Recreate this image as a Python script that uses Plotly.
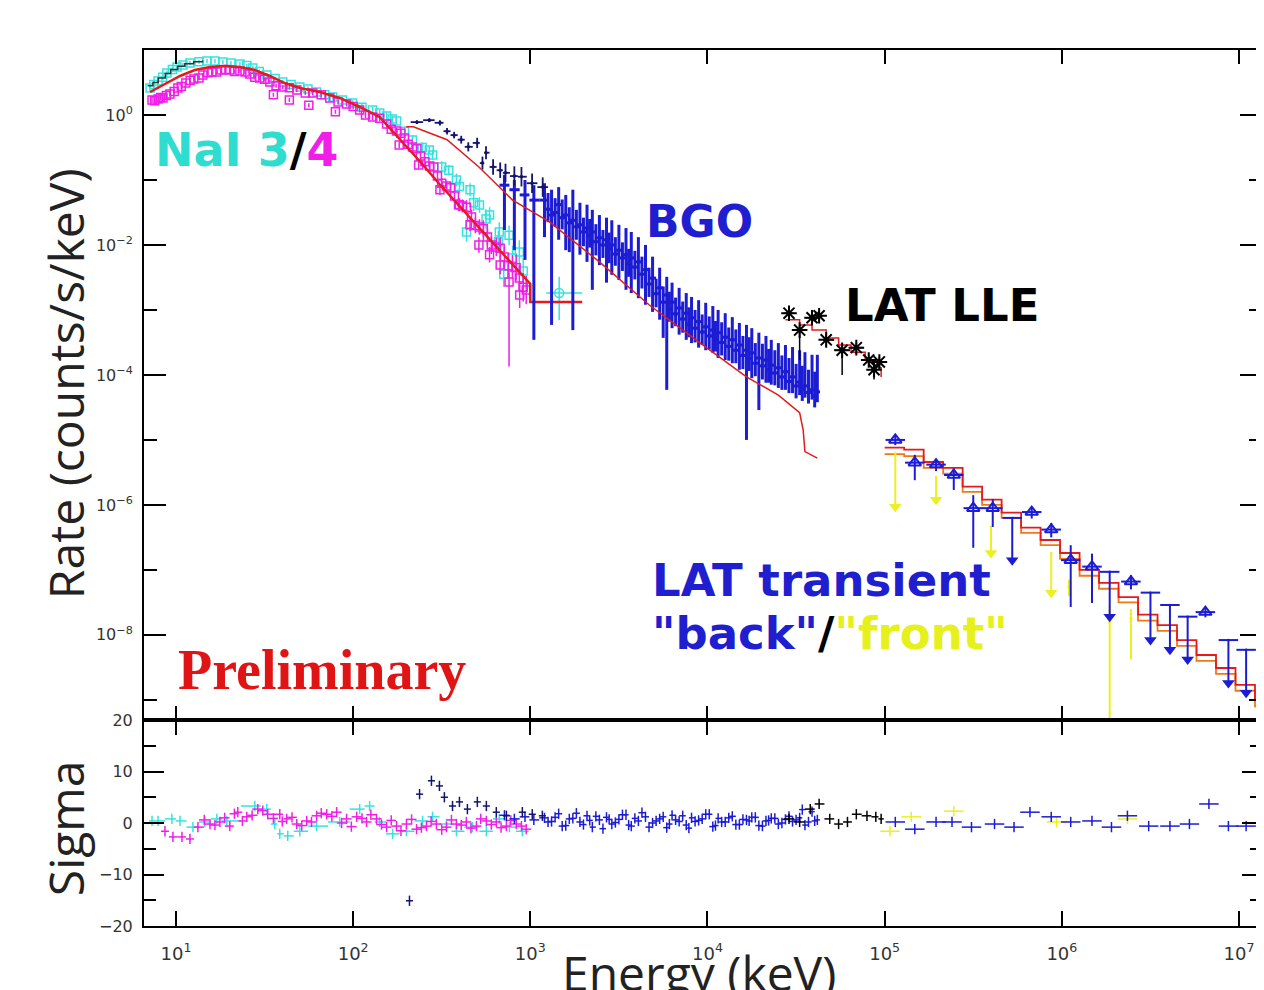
import numpy as np
import plotly.graph_objects as go

# ------------------------------------------------------------------
# Data (log10 energy [keV], log10 rate [counts/s/keV])
# ------------------------------------------------------------------
# NaI 4 (magenta squares)
nai4_log_e = [0.865, 0.899, 0.927, 0.966, 1.011, 1.056, 1.101, 1.152, 1.203, 1.254, 1.304, 1.361, 1.417,
              1.473, 1.530, 1.603, 1.682, 1.772, 1.868, 1.963, 2.037, 2.110, 2.189, 2.245, 2.290, 2.335,
              2.380, 2.431, 2.476, 2.527, 2.572, 2.617, 2.668, 2.713, 2.758, 2.808, 2.854, 2.899, 2.938, 2.977]
nai4_log_rate = [0.231, 0.246, 0.262, 0.323, 0.415, 0.492, 0.554, 0.615, 0.662, 0.692, 0.692, 0.677, 0.631,
                 0.569, 0.508, 0.431, 0.385, 0.338, 0.262, 0.169, 0.077, -0.031, -0.138, -0.246, -0.354, -0.492,
                 -0.631, -0.785, -0.938, -1.092, -1.246, -1.400, -1.569, -1.723, -1.877, -2.031, -2.185, -2.338,
                 -2.508, -2.692]
nai4_err_dex = [0.05, 0.05, 0.05, 0.04, 0.04, 0.04, 0.03, 0.03, 0.03, 0.03, 0.03, 0.03, 0.03, 0.03, 0.03, 0.03,
                0.03, 0.03, 0.04, 0.04, 0.04, 0.05, 0.05, 0.05, 0.06, 0.06, 0.07, 0.07, 0.08, 0.08, 0.09, 0.10,
                0.11, 0.12, 0.13, 0.14, 0.16, 0.18, 0.20, 0.22]
nai4c_log_e = [0.88, 0.913, 0.946, 0.99, 1.03, 1.08, 1.13, 1.18, 1.23, 1.28, 1.33, 1.39, 1.445, 1.50, 1.565,
               1.64, 1.73, 1.82, 1.915, 2.00, 2.07, 2.15, 2.215, 2.27, 2.31, 2.36, 2.405, 2.455, 2.50, 2.55,
               2.595, 2.64, 2.69, 2.735, 2.78, 2.83, 2.875, 2.92, 2.96]
nai4c_log_rate = [0.22, 0.27, 0.30, 0.36, 0.44, 0.53, 0.57, 0.65, 0.66, 0.70, 0.67, 0.66, 0.58, 0.55, 0.45,
                  0.42, 0.34, 0.31, 0.20, 0.13, 0.00, -0.05, -0.22, -0.28, -0.45, -0.52, -0.72, -0.80, -1.05,
                  -1.12, -1.38, -1.42, -1.70, -1.75, -2.00, -2.05, -2.32, -2.35, -2.65]
nai4c_err_dex = [0.05, 0.05, 0.05, 0.04, 0.04, 0.04, 0.03, 0.03, 0.03, 0.03, 0.03, 0.03, 0.03, 0.03, 0.03,
                 0.03, 0.03, 0.04, 0.04, 0.04, 0.05, 0.05, 0.05, 0.06, 0.06, 0.07, 0.07, 0.08, 0.08, 0.09,
                 0.10, 0.11, 0.12, 0.13, 0.14, 0.16, 0.18, 0.20, 0.22]
nai4b_log_e = [1.55, 1.64, 1.75, 1.90, 2.26, 2.37, 2.49, 2.60, 2.66, 2.71, 2.77, 2.83, 2.88, 2.94]
nai4b_log_rate = [0.31, 0.23, 0.15, 0.05, -0.46, -0.77, -1.15, -1.38, -1.69, -2.00, -2.15, -2.31, -2.57, -2.77]
nai4b_err_hi = [0.03, 0.03, 0.03, 0.03, 0.05, 0.06, 0.08, 0.10, 0.10, 0.12, 0.12, 0.14, 0.15, 0.18]
nai4b_err_lo = [0.03, 0.03, 0.03, 0.03, 0.05, 0.06, 0.08, 0.10, 0.10, 0.12, 0.12, 0.14, 1.30, 0.20]

# NaI 3 (cyan squares)
nai3_log_e = [0.854, 0.899, 0.949, 1.006, 1.079, 1.175, 1.265, 1.361, 1.434, 1.513, 1.603, 1.699, 1.794,
              1.885, 1.997, 2.110, 2.189, 2.245, 2.335, 2.448, 2.583, 2.713, 2.825, 2.938]
nai3_log_rate = [0.415, 0.523, 0.646, 0.738, 0.800, 0.831, 0.815, 0.785, 0.723, 0.615, 0.508, 0.431, 0.354,
                 0.277, 0.185, 0.077, -0.015, -0.092, -0.385, -0.615, -1.000, -1.385, -1.800, -2.108]
nai3_err_dex = [0.05, 0.05, 0.04, 0.04, 0.03, 0.03, 0.03, 0.03, 0.03, 0.03, 0.03, 0.03, 0.04, 0.04, 0.04,
                0.05, 0.05, 0.06, 0.07, 0.08, 0.10, 0.12, 0.15, 0.18]
nai3c_log_e = [0.875, 0.925, 0.98, 1.04, 1.13, 1.22, 1.31, 1.40, 1.47, 1.56, 1.65, 1.745, 1.84, 1.94, 2.05,
               2.15, 2.22, 2.29, 2.39, 2.50, 2.60, 2.68, 2.75, 2.82, 2.90, 2.96]
nai3c_log_rate = [0.47, 0.58, 0.70, 0.77, 0.82, 0.83, 0.80, 0.76, 0.67, 0.56, 0.47, 0.40, 0.31, 0.23, 0.12,
                  0.03, -0.06, -0.25, -0.50, -0.80, -1.10, -1.35, -1.60, -1.95, -2.20, -2.40]
nai3c_err_dex = [0.05, 0.04, 0.04, 0.03, 0.03, 0.03, 0.03, 0.03, 0.03, 0.03, 0.03, 0.04, 0.04, 0.04, 0.05,
                 0.05, 0.06, 0.07, 0.08, 0.09, 0.11, 0.13, 0.15, 0.17, 0.19, 0.20]
nai3b_log_e = [2.43, 2.54, 2.64, 2.66, 2.77, 2.85, 2.88]
nai3b_log_rate = [-0.54, -0.85, -1.80, -1.15, -1.54, -2.45, -1.85]
nai3b_err_dex = [0.06, 0.08, 0.15, 0.10, 0.12, 0.20, 0.15]
# last wide NaI 3 bin (> 1 MeV)
nai3_wide_log_e = [3.163]
nai3_wide_edges = [3.09, 3.293]
nai3_wide_log_rate = [-2.738]
nai3_wide_bounds = [-2.49, -3.154]

# NaI models
nai_model_log_e = [0.854, 0.938, 1.023, 1.107, 1.192, 1.276, 1.361, 1.445, 1.530, 1.614, 1.699, 1.811, 1.924,
                   2.037, 2.149, 2.262, 2.375, 2.487, 2.600, 2.713, 2.825, 2.910, 2.977, 3.000, 3.000, 3.293]
nai_model_log_rate = [0.354, 0.477, 0.600, 0.692, 0.738, 0.754, 0.738, 0.692, 0.600, 0.492, 0.415, 0.354,
                      0.262, 0.123, -0.031, -0.369, -0.708, -1.062, -1.400, -1.738, -2.077, -2.338, -2.538,
                      -2.600, -2.877, -2.877]
nai3_model_log_e = [0.84, 0.87, 0.90, 0.94, 0.97, 1.01, 1.05, 1.10, 1.15]
nai3_model_log_rate = [0.45, 0.50, 0.57, 0.64, 0.70, 0.75, 0.79, 0.82, 0.84]

# BGO, early channels (dark navy)
bgo_dark_log_e = [2.36, 2.43, 2.49, 2.53, 2.57, 2.61, 2.65, 2.70, 2.73, 2.75, 2.79, 2.83, 2.86, 2.91, 2.95,
                  3.01, 3.07]
bgo_dark_log_rate = [-0.11, -0.08, -0.12, -0.25, -0.31, -0.38, -0.49, -0.43, -0.74, -0.58, -0.80, -0.85,
                     -0.89, -0.94, -0.95, -1.05, -1.11]
bgo_dark_err_dex = [0.03, 0.03, 0.04, 0.05, 0.05, 0.06, 0.07, 0.08, 0.10, 0.10, 0.12, 0.12, 0.14, 0.15, 0.15,
                    0.15, 0.15]

# BGO (blue)
bgo_log_e = [2.854, 2.91, 2.97, 3.02, 3.08, 3.12, 3.16, 3.20, 3.24, 3.28, 3.32, 3.35, 3.39, 3.43, 3.46, 3.50,
             3.54, 3.57, 3.61, 3.65, 3.69, 3.73, 3.77, 3.80, 3.84, 3.88, 3.91, 3.95, 3.99, 4.03, 4.06, 4.10,
             4.14, 4.18, 4.22, 4.25, 4.29, 4.33, 4.36, 4.40, 4.44, 4.48, 4.52, 4.55, 4.59, 4.62]
bgo_log_rate = [-1.08, -1.15, -1.23, -1.31, -1.31, -1.54, -1.38, -1.54, -1.62, -1.69, -1.74, -1.80, -1.89,
                -1.92, -2.00, -2.08, -2.15, -2.20, -2.26, -2.38, -2.51, -2.66, -2.77, -2.88, -2.97, -3.05,
                -3.12, -3.18, -3.26, -3.31, -3.35, -3.42, -3.46, -3.54, -3.62, -3.66, -3.74, -3.77, -3.85,
                -3.89, -3.95, -4.03, -4.11, -4.17, -4.23, -4.26]
bgo_log_hi = [-0.92, -1.00, -1.00, -1.08, -1.05, -1.15, -1.11, -1.23, -1.15, -1.35, -1.38, -1.46, -1.54, -1.58,
              -1.62, -1.69, -1.74, -1.80, -1.88, -2.00, -2.18, -2.35, -2.49, -2.58, -2.66, -2.74, -2.80, -2.85,
              -2.89, -2.94, -3.00, -3.05, -3.11, -3.20, -3.23, -3.28, -3.35, -3.40, -3.46, -3.51, -3.54, -3.57,
              -3.62, -3.65, -3.69, -3.69]
bgo_log_lo = [-1.77, -2.08, -2.23, -3.46, -1.88, -3.23, -1.92, -2.08, -3.31, -2.15, -2.26, -2.69, -2.31, -2.58,
              -2.46, -2.54, -2.69, -2.74, -2.82, -2.92, -3.03, -3.15, -4.23, -3.28, -3.38, -3.46, -3.51, -3.58,
              -3.62, -3.66, -3.74, -3.77, -3.82, -3.92, -5.00, -4.05, -4.54, -4.12, -4.15, -4.20, -4.23, -4.28,
              -4.31, -4.35, -4.38, -4.42]
# BGO channels in between (lower, denser part of the band)
bgo2_log_e = [3.10, 3.14, 3.18, 3.22, 3.26, 3.30, 3.335, 3.37, 3.41, 3.445, 3.48, 3.52, 3.555, 3.59, 3.63,
              3.67, 3.71, 3.75, 3.785, 3.82, 3.86, 3.895, 3.93, 3.97, 4.01, 4.045, 4.08, 4.12, 4.16, 4.20,
              4.235, 4.27, 4.31, 4.345, 4.38, 4.42, 4.46, 4.50, 4.535, 4.57, 4.605]
bgo2_log_rate = [-1.45, -1.50, -1.58, -1.66, -1.72, -1.80, -1.85, -1.95, -2.00, -2.06, -2.14, -2.20, -2.28,
                 -2.34, -2.45, -2.60, -2.75, -2.88, -2.98, -3.06, -3.14, -3.22, -3.28, -3.34, -3.40, -3.45,
                 -3.50, -3.56, -3.62, -3.70, -3.75, -3.82, -3.86, -3.92, -3.97, -4.03, -4.10, -4.17, -4.22,
                 -4.27, -4.32]
bgo2_err_hi = [0.25, 0.22, 0.28, 0.24, 0.26, 0.22, 0.25, 0.27, 0.23, 0.25, 0.26, 0.24, 0.22, 0.25, 0.27,
               0.25, 0.23, 0.24, 0.26, 0.25, 0.27, 0.26, 0.28, 0.27, 0.30, 0.28, 0.31, 0.29, 0.32, 0.30,
               0.33, 0.31, 0.34, 0.32, 0.35, 0.33, 0.36, 0.34, 0.36, 0.35, 0.37]
bgo2_err_lo = [0.20, 0.22, 0.18, 0.45, 0.20, 0.22, 0.19, 0.21, 0.20, 0.22, 0.18, 0.20, 0.21, 0.19, 0.22,
               0.20, 0.21, 0.55, 0.20, 0.19, 0.21, 0.20, 0.22, 0.20, 0.21, 0.19, 0.20, 0.22, 0.20, 0.21,
               0.19, 0.20, 0.21, 0.20, 0.19, 0.20, 0.18, 0.19, 0.18, 0.17, 0.18]
bgo_model_log_e = [2.30, 2.34, 2.53, 2.71, 2.90, 3.11, 3.39, 3.67, 3.95, 4.22, 4.40, 4.52, 4.54, 4.55, 4.62]
bgo_model_log_rate = [-0.18, -0.18, -0.38, -0.80, -1.31, -1.65, -2.26, -2.92, -3.49, -4.03, -4.31, -4.58,
                      -4.85, -5.18, -5.28]

# LAT LLE (black asterisks)
lle_log_e = [4.46, 4.52, 4.59, 4.63, 4.67, 4.76, 4.84, 4.91, 4.94, 4.97]
lle_log_rate = [-3.05, -3.31, -3.12, -3.09, -3.46, -3.62, -3.58, -3.77, -3.92, -3.80]
lle_err_hi = [0.08, 0.08, 0.08, 0.08, 0.08, 0.08, 0.08, 0.08, 0.08, 0.08]
lle_err_lo = [0.10, 0.46, 0.10, 0.10, 0.10, 0.38, 0.10, 0.10, 0.15, 0.10]
lle_model_log_e = [4.44, 4.52, 4.59, 4.67, 4.74, 4.81, 4.89, 4.97, 4.98]
lle_model_log_rate = [-3.15, -3.23, -3.31, -3.43, -3.54, -3.65, -3.77, -3.89, -4.03]

# LAT transient "back" (blue triangles) and upper limits
lat_bin_half_dex = 0.055
lat_back_log_e = [5.06, 5.17, 5.29, 5.39, 5.50, 5.61, 5.83, 5.94, 6.05, 6.17, 6.39, 6.81]
lat_back_log_rate = [-5.00, -5.35, -5.38, -5.54, -6.05, -6.05, -6.11, -6.38, -6.85, -6.95, -7.18, -7.65]
lat_back_err_hi = [0.08, 0.12, 0.08, 0.10, 0.20, 0.14, 0.08, 0.10, 0.23, 0.20, 0.10, 0.08]
lat_back_err_lo = [0.08, 0.27, 0.10, 0.23, 0.61, 0.29, 0.10, 0.12, 0.72, 0.56, 0.12, 0.08]
lat_back_ul_log_e = [5.72, 6.27, 6.50, 6.61, 6.71, 6.94, 7.04]
lat_back_ul_top = [-6.20, -7.03, -7.35, -7.54, -7.72, -8.08, -8.23]
lat_back_ul_arrow = [-6.85, -7.72, -8.08, -8.23, -8.38, -8.74, -8.89]
# LAT transient "front" (yellow)
lat_front_log_e = [6.04, 6.27, 6.39]
lat_front_log_rate = [-7.26, -7.80, -7.75]
lat_front_log_hi = [-7.15, -7.55, -7.60]
lat_front_log_lo = [-7.40, -9.60, -8.38]
lat_front_ul_log_e = [5.06, 5.29, 5.60, 5.94]
lat_front_ul_top = [-5.20, -5.57, -6.34, -6.74]
lat_front_ul_arrow = [-6.03, -5.92, -6.74, -7.35]
# LAT models (step histograms)
lat_edge_log_e = [5.00, 5.11, 5.22, 5.33, 5.44, 5.55, 5.66, 5.77, 5.88, 5.99, 6.10, 6.21, 6.32, 6.43, 6.54,
                  6.65, 6.76, 6.87, 6.98, 7.09, 7.20]
lat_back_model = [-5.12, -5.15, -5.34, -5.43, -5.72, -5.92, -6.12, -6.35, -6.54, -6.74, -7.00, -7.20, -7.42,
                  -7.69, -7.85, -8.08, -8.31, -8.51, -8.77, -9.00]
lat_front_model = [-5.22, -5.25, -5.43, -5.52, -5.80, -6.00, -6.20, -6.43, -6.62, -6.83, -7.09, -7.29, -7.50,
                   -7.78, -7.94, -8.17, -8.40, -8.60, -8.86, -9.10]

# Residuals (sigma)
nai4_res_log_e = [0.938, 0.983, 1.034, 1.079, 1.124, 1.192, 1.248, 1.304, 1.349, 1.400, 1.462, 1.518, 1.586,
                  1.625, 1.682, 1.738, 1.794, 1.851, 1.907, 1.963, 2.020, 2.076, 2.132, 2.189, 2.245, 2.301,
                  2.358, 2.414, 2.470, 2.527, 2.583, 2.639, 2.696, 2.752, 2.808, 2.865, 2.921, 2.977]
nai4_res_sigma = [-1.6, -2.7, -2.7, -3.1, -0.8, -0.2, 0.2, -0.6, 2.1, 1.2, 2.7, 1.7, 1.7, 0.8, -0.2, 0.4, 1.4,
                  1.7, 2.1, 0.8, 1.2, 0.2, 0.8, -0.8, -0.6, -0.2, -1.2, -0.6, -0.2, -0.8, -0.2, 0.2, -0.6, 0.4,
                  0.2, -0.6, -0.2, -1.2]
nai4c_res_log_e = [1.16, 1.22, 1.275, 1.33, 1.375, 1.43, 1.49, 1.55, 1.60, 1.655, 1.71, 1.765, 1.82, 1.88,
                   1.935, 1.99, 2.05, 2.10, 2.16, 2.215, 2.27, 2.33, 2.385, 2.44, 2.50, 2.555, 2.61, 2.665,
                   2.72, 2.78, 2.835, 2.89, 2.95]
nai4c_res_sigma = [0.6, -0.4, 1.0, 1.8, 0.4, 1.5, 2.4, 0.9, 0.3, 1.1, -0.5, 0.2, 1.9, 1.3, 0.0, -0.7, 0.9, 1.6,
                   -0.3, 0.5, -1.5, 0.7, -0.9, 0.3, -1.3, 0.6, -0.4, -1.0, 0.8, -0.3, -0.9, 0.5, -0.6]
nai3_res_log_e = [0.865, 0.899, 0.977, 1.023, 1.096, 1.163, 1.231, 1.287, 1.445, 1.513, 1.558, 1.586, 1.631,
                  1.699, 1.794, 1.924, 2.037, 2.093, 2.149, 2.223, 2.301, 2.392, 2.448, 2.527, 2.583, 2.673,
                  2.752, 2.825, 2.882, 2.955]
nai3_res_sigma = [0.4, 0.4, 0.8, 0.4, -0.8, 0.2, 0.8, 0.4, 3.3, 2.7, -0.2, -2.1, -2.5, -1.6, -0.6, 0.2, 2.7,
                  3.3, 0.2, -2.1, -1.6, 0.4, 1.2, -0.2, -1.6, -0.8, -1.6, 0.8, -0.8, -1.6]
bgo_dark_res_log_e = [2.318, 2.375, 2.442, 2.487, 2.515, 2.561, 2.600, 2.645, 2.701, 2.752, 2.808, 2.865,
                      2.955, 3.011, 3.068]
bgo_dark_res_sigma = [-15.1, 5.6, 8.2, 7.2, 5.0, 3.3, 4.1, 2.7, 4.1, 3.3, 2.1, 1.4, 2.1, 1.7, 1.4]
bgo_res_sigma = [1.5, 0.8, 1.2, 0.6, 1.0, 0.3, 1.8, -0.5, 0.9, 0.2, 1.4, -0.8, 0.6, 1.1, -0.2, 0.7, 1.6, -0.6,
                 0.4, 1.2, 0.0, 0.8, -0.9, 1.5, 0.3, -0.4, 1.0, 0.5, 1.7, -0.7, 0.9, 0.2, 1.3, -0.3, 0.6, 1.1,
                 -0.5, 0.4, 0.9, -0.2, 0.7, 0.3, 1.0, -0.4, 2.2, 0.6]
bgo2_res_sigma = [0.2, 1.1, -0.6, 0.8, 1.9, -0.3, 0.5, 1.3, -1.1, 0.7, 0.1, 1.6, -0.4, 0.9, 2.0, -0.8, 0.4,
                  1.2, -0.2, 0.6, 1.4, -1.0, 0.3, 0.8, 1.7, -0.5, 0.2, 1.0, -0.3, 0.7, 0.4, 1.1, -0.6, 0.5,
                  0.9, 0.0, 1.3, 0.6, 2.6, 0.2, 0.4]
lle_res_log_e = [4.46, 4.52, 4.58, 4.63, 4.69, 4.74, 4.79, 4.84, 4.90, 4.95, 4.98]
lle_res_sigma = [0.8, 0.2, 2.7, 3.7, 0.8, -0.2, 0.2, 1.7, 1.4, 1.2, 0.8]
lat_back_res_log_e = [5.06, 5.17, 5.29, 5.38, 5.49, 5.62, 5.73, 5.82, 5.94, 6.05, 6.17, 6.28, 6.37, 6.49,
                      6.61, 6.72, 6.83, 6.94, 7.04]
lat_back_res_sigma = [0.2, -1.2, 0.2, 0.2, -0.8, -0.2, -0.8, 2.1, 1.2, 0.2, 0.4, -0.8, 1.4, -0.6, -0.6, -0.2,
                      3.7, -0.6, -0.6]
lat_front_res_log_e = [5.03, 5.15, 5.39, 5.97, 6.37]
lat_front_res_sigma = [-1.6, 1.2, 2.3, 0.2, 0.8]

x_tick_powers = [1, 2, 3, 4, 5, 6, 7]
y_tick_powers = [-8, -6, -4, -2, 0]
y_minor_powers = [-9, -7, -5, -3, -1, 1]
sigma_ticks = [-20, -10, 0, 10, 20]
sigma_minor = [-15, -5, 5, 15]

# ------------------------------------------------------------------
CYAN = "#33e3e0"
MAGENTA = "#f01ee6"
BLUE = "#1c1cd4"
NAVY = "#14146e"
RED = "#e41a1c"
ORANGE = "#f07818"
YELLOW = "#ecf020"
BLACK = "#000000"


def lin(a):
    return 10 ** np.asarray(a, dtype=float)


def dex_err(lr, hi, lo):
    lr = np.asarray(lr, dtype=float)
    r = 10 ** lr
    return 10 ** (lr + np.asarray(hi)) - r, r - 10 ** (lr - np.asarray(lo))


def bound_err(lr, hi, lo):
    r = lin(lr)
    return lin(hi) - r, r - lin(lo)


def x_halfwidths(le, half=None):
    le = np.asarray(le, dtype=float)
    if half is None:
        d = np.diff(le) / 2.0
        left = np.r_[d[0], d]
        right = np.r_[d, d[-1]]
    else:
        left = right = np.full(len(le), half)
    e = 10 ** le
    return 10 ** (le + right) - e, e - 10 ** (le - left)


fig = go.Figure()


def add(tr, bottom=False):
    tr.update(xaxis="x2" if bottom else "x", yaxis="y2" if bottom else "y", showlegend=False,
              hoverinfo="skip")
    fig.add_trace(tr)


def data_trace(le, lr, up, dn, color, symbol="circle", size=1, thick=1.5, xerr=None, lw=1.5):
    tr = go.Scatter(x=lin(le), y=lin(lr), mode="markers",
                    marker=dict(symbol=symbol, size=size, color=color, line=dict(color=color, width=lw)),
                    error_y=dict(type="data", array=up, arrayminus=dn, color=color, thickness=thick, width=0))
    if xerr is not None:
        tr.update(error_x=dict(type="data", array=xerr[0], arrayminus=xerr[1], color=color,
                               thickness=thick, width=0))
    return tr


# ---- top panel ----
for le, lr, er in [(nai3_log_e, nai3_log_rate, nai3_err_dex), (nai3c_log_e, nai3c_log_rate, nai3c_err_dex),
                   (nai3b_log_e, nai3b_log_rate, nai3b_err_dex)]:
    up, dn = dex_err(lr, er, er)
    add(data_trace(le, lr, up, dn, CYAN, "square-open", 8))
up, dn = bound_err(nai3_wide_log_rate, [nai3_wide_bounds[0]], [nai3_wide_bounds[1]])
we = 10 ** nai3_wide_log_e[0]
add(data_trace(nai3_wide_log_e, nai3_wide_log_rate, up, dn, CYAN, "circle-open", 9,
               xerr=([10 ** nai3_wide_edges[1] - we], [we - 10 ** nai3_wide_edges[0]])))

for le, lr, eh, el in [(nai4_log_e, nai4_log_rate, nai4_err_dex, nai4_err_dex),
                       (nai4c_log_e, nai4c_log_rate, nai4c_err_dex, nai4c_err_dex),
                       (nai4b_log_e, nai4b_log_rate, nai4b_err_hi, nai4b_err_lo)]:
    up, dn = dex_err(lr, eh, el)
    add(data_trace(le, lr, up, dn, MAGENTA, "square-open", 8))

add(go.Scatter(x=lin(nai3_model_log_e), y=lin(nai3_model_log_rate), mode="lines", line_shape="hv",
               line=dict(color="#333333", width=1.5)))
add(go.Scatter(x=lin(nai_model_log_e), y=lin(nai_model_log_rate), mode="lines",
               line=dict(color=RED, width=2.5)))

up, dn = bound_err(bgo_log_rate, bgo_log_hi, bgo_log_lo)
add(data_trace(bgo_log_e, bgo_log_rate, up, dn, BLUE, "circle", 2, thick=3,
               xerr=x_halfwidths(bgo_log_e)))
up, dn = dex_err(bgo2_log_rate, bgo2_err_hi, bgo2_err_lo)
add(data_trace(bgo2_log_e, bgo2_log_rate, up, dn, BLUE, "circle", 2, thick=3,
               xerr=x_halfwidths(bgo2_log_e)))
up, dn = dex_err(bgo_dark_log_rate, bgo_dark_err_dex, bgo_dark_err_dex)
add(data_trace(bgo_dark_log_e, bgo_dark_log_rate, up, dn, NAVY, "circle", 2, thick=1.8,
               xerr=x_halfwidths(bgo_dark_log_e)))
add(go.Scatter(x=lin(bgo_model_log_e), y=lin(bgo_model_log_rate), mode="lines",
               line=dict(color=RED, width=1.5)))

add(go.Scatter(x=lin(lle_model_log_e), y=lin(lle_model_log_rate), mode="lines", line_shape="hv",
               line=dict(color=RED, width=1.5)))
up, dn = dex_err(lle_log_rate, lle_err_hi, lle_err_lo)
add(data_trace(lle_log_e, lle_log_rate, up, dn, BLACK, "asterisk-open", 13, thick=1.5,
               xerr=x_halfwidths(lle_log_e), lw=2))

# LAT models
add(go.Scatter(x=lin(lat_edge_log_e), y=lin(lat_front_model + [lat_front_model[-1]]), mode="lines",
               line_shape="hv", line=dict(color=ORANGE, width=1.8)))
add(go.Scatter(x=lin(lat_edge_log_e), y=lin(lat_back_model + [lat_back_model[-1]]), mode="lines",
               line_shape="hv", line=dict(color=RED, width=1.8)))

# LAT front (yellow)
up, dn = bound_err(lat_front_log_rate, lat_front_log_hi, lat_front_log_lo)
add(data_trace(lat_front_log_e, lat_front_log_rate, up, dn, YELLOW, "circle", 2, thick=2))
r = lin(lat_front_ul_top)
add(data_trace(lat_front_ul_log_e, lat_front_ul_top, np.zeros(len(r)), r - lin(lat_front_ul_arrow),
               YELLOW, "circle", 1, thick=2))
add(go.Scatter(x=lin(lat_front_ul_log_e), y=lin(lat_front_ul_arrow), mode="markers",
               marker=dict(symbol="triangle-down", size=11, color=YELLOW)))

# LAT back (blue)
up, dn = dex_err(lat_back_log_rate, lat_back_err_hi, lat_back_err_lo)
add(data_trace(lat_back_log_e, lat_back_log_rate, up, dn, BLUE, "triangle-up-open", 11, thick=2,
               xerr=x_halfwidths(lat_back_log_e, lat_bin_half_dex), lw=2))
r = lin(lat_back_ul_top)
add(data_trace(lat_back_ul_log_e, lat_back_ul_top, np.zeros(len(r)), r - lin(lat_back_ul_arrow), BLUE,
               "circle", 1, thick=2, xerr=x_halfwidths(lat_back_ul_log_e, lat_bin_half_dex)))
add(go.Scatter(x=lin(lat_back_ul_log_e), y=lin(lat_back_ul_arrow), mode="markers",
               marker=dict(symbol="triangle-down", size=11, color=BLUE)))


# ---- residual panel ----
def res_trace(le, sig, color, half=None, thick=1.5):
    xe = x_halfwidths(le, half)
    return go.Scatter(x=lin(le), y=sig, mode="markers", marker=dict(size=1, color=color),
                      error_y=dict(type="constant", value=1.0, color=color, thickness=thick, width=0),
                      error_x=dict(type="data", array=xe[0], arrayminus=xe[1], color=color,
                                   thickness=thick, width=0))


add(res_trace(nai3_res_log_e, nai3_res_sigma, CYAN), bottom=True)
add(res_trace(nai4_res_log_e, nai4_res_sigma, MAGENTA), bottom=True)
add(res_trace(nai4c_res_log_e, nai4c_res_sigma, MAGENTA), bottom=True)
add(res_trace(bgo_log_e, bgo_res_sigma, BLUE), bottom=True)
add(res_trace(bgo2_log_e, bgo2_res_sigma, BLUE), bottom=True)
add(res_trace(bgo_dark_res_log_e, bgo_dark_res_sigma, NAVY, half=0.02), bottom=True)
add(res_trace(lle_res_log_e, lle_res_sigma, BLACK), bottom=True)
add(res_trace(lat_front_res_log_e, lat_front_res_sigma, YELLOW, half=lat_bin_half_dex), bottom=True)
add(res_trace(lat_back_res_log_e, lat_back_res_sigma, BLUE, half=lat_bin_half_dex), bottom=True)

# ------------------------------------------------------------------
# The page body adds an 8 px offset; the figure is sized so it fits the window
# without scrollbars, and the plot frame lands on the reference frame
# (left 144, top 50, split 720, bottom 926, right edge of the window).
OFF = 8
W, H = 1256, 982
L, R, T, B = 136, 0, 42, 64
PLOT_W = W - L - R
PLOT_H = H - T - B
split = (926 - 720) / PLOT_H

tickfont = dict(family="DejaVu Sans", size=16, color="#333333")
common_x = dict(type="log", range=[0.8197, 7.1296], showgrid=False, zeroline=False, showline=True,
                linecolor="black", linewidth=2, mirror="ticks", ticks="inside", tickcolor="black",
                tickwidth=2, tickmode="array", tickvals=[10.0 ** p for p in x_tick_powers])

fig.update_layout(
    width=W, height=H, margin=dict(l=L, r=R, t=T, b=B),
    paper_bgcolor="white", plot_bgcolor="white", showlegend=False,
    xaxis=dict(common_x, anchor="y", domain=[0, 1], showticklabels=False, ticklen=14),
    xaxis2=dict(common_x, anchor="y2", domain=[0, 1], matches="x", ticklen=15,
                ticktext=["10<sup>%d</sup>" % p for p in x_tick_powers],
                tickfont=dict(family="DejaVu Sans", size=18, color="#333333"), ticklabelstandoff=10),
    yaxis=dict(type="log", range=[-9.31, 1.0], domain=[split, 1], anchor="x", showgrid=False,
               zeroline=False, showline=True, linecolor="black", linewidth=2, mirror="ticks",
               ticks="inside", ticklen=22, tickwidth=2, tickcolor="black", tickmode="array",
               tickvals=[10.0 ** p for p in y_tick_powers],
               ticktext=["10<sup>%s</sup>" % (str(p).replace("-", "−")) for p in y_tick_powers],
               tickfont=tickfont, ticklabelstandoff=6,
               minor=dict(tickmode="array", tickvals=[10.0 ** p for p in y_minor_powers], ticks="inside",
                          ticklen=13, tickwidth=2, tickcolor="black")),
    yaxis2=dict(range=[-20, 20], domain=[0, split], anchor="x2", showgrid=False, zeroline=False,
                showline=True, linecolor="black", linewidth=2, mirror="ticks", ticks="inside", ticklen=20,
                tickwidth=2, tickcolor="black", tickmode="array", tickvals=sigma_ticks,
                ticktext=[str(v).replace("-", "−") for v in sigma_ticks], tickfont=tickfont,
                ticklabelstandoff=6,
                minor=dict(tickmode="array", tickvals=sigma_minor, ticks="inside", ticklen=12, tickwidth=2,
                           tickcolor="black")),
)


def px(xw):
    return (xw - OFF - L) / PLOT_W


def py(yw):
    return (H - B - (yw - OFF)) / PLOT_H


title_font = dict(family="Open Sans", size=48, color="#222222")
bold = dict(family="DejaVu Sans", weight="bold")
annotations = [
    dict(text="Rate (counts/s/keV)", x=px(65), y=py(384), textangle=-90, font=title_font,
         xanchor="center", yanchor="middle"),
    dict(text="Sigma", x=px(65), y=py(828), textangle=-90, font=title_font, xanchor="center",
         yanchor="middle"),
    dict(text="Energy (keV)", x=px(700), y=py(938), font=title_font, xanchor="center", yanchor="top"),
    dict(text="<span style='color:%s'>NaI 3</span><span style='color:black'>/</span>"
              "<span style='color:%s'>4</span>" % ("#2fdcd0", MAGENTA),
         x=px(153), y=py(150), font=dict(bold, size=46), xanchor="left", yanchor="middle"),
    dict(text="BGO", x=px(645), y=py(221), font=dict(bold, size=44, color="#1f1fcf"), xanchor="left",
         yanchor="middle"),
    dict(text="LAT LLE", x=px(844), y=py(305), font=dict(bold, size=45, color="black"), xanchor="left",
         yanchor="middle"),
    dict(text="LAT transient", x=px(651), y=py(580), font=dict(bold, size=45, color="#1f1fcf"),
         xanchor="left", yanchor="middle"),
    dict(text="<span style='color:#1f1fcf'>\"back\"</span><span style='color:black'>/</span>"
              "<span style='color:#e6f01a'>\"front\"</span>",
         x=px(651), y=py(633), font=dict(bold, size=45), xanchor="left", yanchor="middle"),
    dict(text="Preliminary", x=px(176), y=py(670),
         font=dict(family="Liberation Serif", size=56, color="#e01414", weight="bold"),
         xanchor="left", yanchor="middle"),
]
for a in annotations:
    a.update(xref="paper", yref="paper", showarrow=False)
fig.update_layout(annotations=annotations)

fig.write_html("out.html")
